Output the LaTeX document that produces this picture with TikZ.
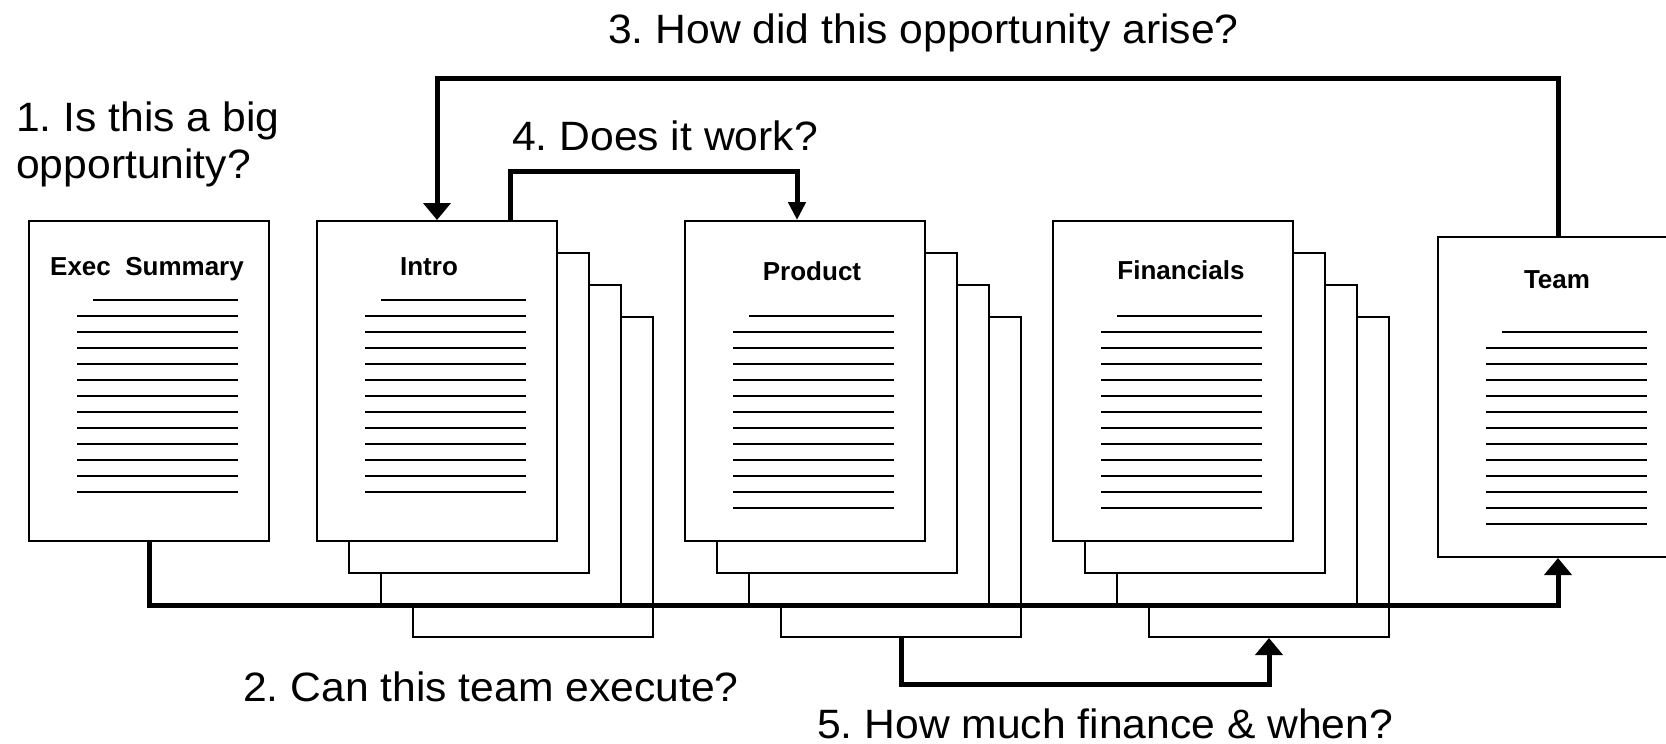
\documentclass[tikz,border=0pt]{standalone}
\usepackage{fontspec}
\setmainfont{Liberation Sans}
\newfontfamily\askfont[FakeStretch=1.04]{Liberation Sans}
\usetikzlibrary{arrows.meta}
\frenchspacing

\tikzset{
  page/.style={draw, line width=2pt, fill=white, minimum width=240pt, minimum height=320pt, inner sep=0pt},
  rule/.style={line width=2.4pt},
  link/.style={line width=5pt},
  bigtip/.style={-{Triangle[width=27pt,length=17pt]}},
  smalltip/.style={-{Triangle[width=17pt,length=18pt]}},
  title/.style={font=\fontsize{26}{30}\selectfont\bfseries, anchor=base, inner sep=0pt},
  question/.style={font=\askfont\fontsize{41}{47}\selectfont, anchor=base west, inner sep=0pt, align=left},
}

% text rules on a page: #1 = left edge, #2 = height of the short first rule
\newcommand{\pagerules}[2]{%
  \draw[rule] (#1+64,#2) -- (#1+209,#2);
  \foreach \k in {1,...,12}
    \draw[rule] (#1+48,#2+16*\k) -- (#1+209,#2+16*\k);
}

\begin{document}
\begin{tikzpicture}[x=1pt, y=-1pt]
\clip (0,0) rectangle (1666,744);

% questions
\node[question] (q3) at (608,43) {3. How did this opportunity arise?};
\node[question] (q1) at (16,178) {1. Is this a big\\opportunity?};
\node[question] (q4) at (512,150) {4. Does it work?};
\node[question] (q2) at (243,701) {2. Can this team execute?};
\node[question] (q5) at (817,738) {5. How much finance \& when?};

% exec summary
\node[page] (exec) at (149,381) {};
\node[title] (exec-title) at (147,275) {Exec\ \ Summary};
\pagerules{29}{300}

% intro, three sheets behind
\foreach \k in {3,2,1}
  \node[page] (intro-\k) at (437+32*\k,381+32*\k) {};
\node[page] (intro) at (437,381) {};
\node[title] (intro-title) at (429,275) {Intro};
\pagerules{317}{300}

% product
\foreach \k in {3,2,1}
  \node[page] (product-\k) at (805+32*\k,381+32*\k) {};
\node[page] (product) at (805,381) {};
\node[title] (product-title) at (812,280) {Product};
\pagerules{685}{316}

% financials
\foreach \k in {3,2,1}
  \node[page] (fin-\k) at (1173+32*\k,381+32*\k) {};
\node[page] (fin) at (1173,381) {};
\node[title] (fin-title) at (1181,279) {Financials};
\pagerules{1053}{316}

% team
\node[page] (team) at (1558,397) {};
\node[title] (team-title) at (1557,288) {Team};
\pagerules{1438}{332}

% flow
\draw[link, bigtip] (exec.south) -- ++(0,63) -| (team.south);
\draw[link, bigtip] (team.north) -- ++(0,-158) -| (intro.north);
\draw[link, smalltip] ([xshift=73pt]intro.north) -- ++(0,-49) -| ([xshift=-8pt]product.north);
\draw[link, bigtip] (product-3.south) -- ++(0,46) -| (fin-3.south);
\end{tikzpicture}
\end{document}
